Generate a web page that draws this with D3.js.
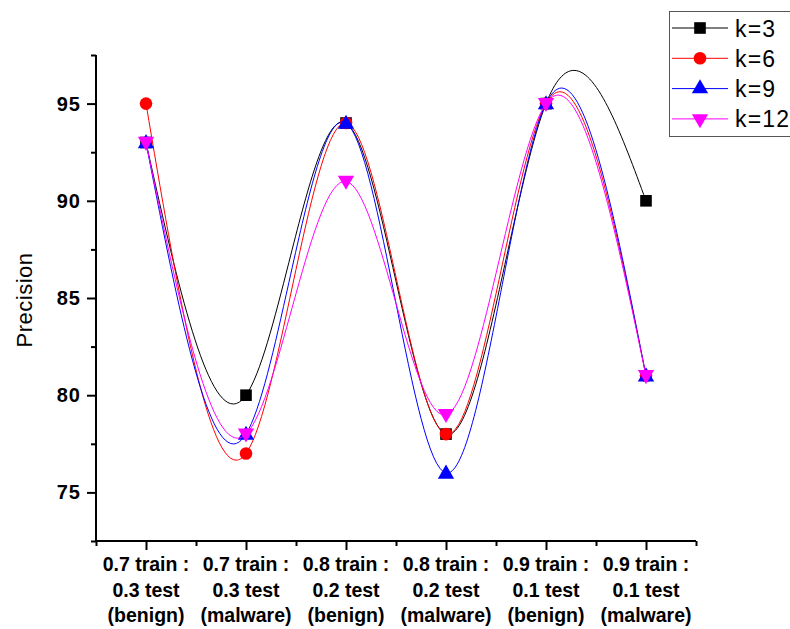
<!DOCTYPE html>
<html>
<head>
<meta charset="utf-8">
<script src="https://cdn.jsdelivr.net/npm/d3@7.9.0/dist/d3.min.js"></script>
<style>
  body { margin: 0; background: #fff; }
  svg { display: block; font-family: "Liberation Sans", Arial, sans-serif; }
</style>
</head>
<body>
<svg id="chart" width="790" height="629"></svg>
<script>
// categories (one per x position, split into three label lines)
const categories = [
  ['0.7 train :', '0.3 test', '(benign)'],
  ['0.7 train :', '0.3 test', '(malware)'],
  ['0.8 train :', '0.2 test', '(benign)'],
  ['0.8 train :', '0.2 test', '(malware)'],
  ['0.9 train :', '0.1 test', '(benign)'],
  ['0.9 train :', '0.1 test', '(malware)']
];

const seriesNames = ['k=3', 'k=6', 'k=9', 'k=12'];
const k3 = [93, 80, 94, 78, 95, 90];
const k6 = [95, 77, 94, 78, 95, 81];
const k9 = [93, 78, 94, 76, 95, 81];
const k12 = [93, 78, 91, 79, 95, 81];
const yTicks = [75, 80, 85, 90, 95];
const yMinorTicks = [72.5, 77.5, 82.5, 87.5, 92.5, 97.5];

const colors = ['#000000', '#ff0000', '#0000ff', '#ff00ff'];
const symbols = [d3.symbolSquare, d3.symbolCircle, d3.symbolTriangle, d3.symbolTriangle];

const series = [k3, k6, k9, k12].map((vals, i) => ({
  name: seriesNames[i],
  color: colors[i],
  symbol: symbols[i],
  flip: i === 3,
  values: vals.map((v, j) => ({ x: j + 1, y: v }))
}));

const svg = d3.select('#chart');

const x = d3.scaleLinear().domain([0.5, categories.length + 0.5]).range([96, 696]);
const y = d3.scaleLinear().domain([72.5, 97.5]).range([541, 55]);

// bottom axis
const xAxis = svg.append('g').attr('transform', 'translate(0,541)');
xAxis.call(d3.axisBottom(x).tickValues(d3.range(1, categories.length + 1)).tickSize(9).tickFormat(''));
xAxis.append('g').call(d3.axisBottom(x).tickValues(d3.range(0.5, categories.length + 1, 1)).tickSize(5).tickFormat(''));
xAxis.selectAll('.domain').attr('stroke-width', 2).attr('d', `M${x(0.5)},0H${x(categories.length + 0.5)}`);
xAxis.selectAll('line').attr('stroke-width', 2);

const xLabels = svg.append('g')
  .attr('font-weight', 'bold')
  .attr('font-size', 19.5)
  .attr('text-anchor', 'middle');
categories.forEach((lines, i) => {
  lines.forEach((t, j) => {
    xLabels.append('text')
      .attr('x', x(i + 1))
      .attr('y', 571 + j * 25.5)
      .text(t);
  });
});

// left axis
const yAxis = svg.append('g').attr('transform', 'translate(96,0)');
yAxis.call(d3.axisLeft(y).tickValues(yTicks).tickSize(9).tickFormat(''));
yAxis.append('g').call(d3.axisLeft(y).tickValues(yMinorTicks).tickSize(5).tickFormat(''));
yAxis.selectAll('.domain').attr('stroke-width', 2).attr('d', `M0,${y(72.5)}V${y(97.5)}`);
yAxis.selectAll('line').attr('stroke-width', 2);

svg.append('g')
  .attr('font-weight', 'bold')
  .attr('font-size', 20)
  .attr('letter-spacing', 1)
  .attr('text-anchor', 'end')
  .selectAll('text')
  .data(yTicks)
  .join('text')
  .attr('x', 81)
  .attr('y', d => y(d) + 7)
  .text(d => d);

svg.append('text')
  .attr('transform', `translate(32,${(y(72.5) + y(97.5)) / 2 + 2}) rotate(-90)`)
  .attr('text-anchor', 'middle')
  .attr('font-size', 22)
  .attr('letter-spacing', 0.5)
  .text('Precision');

// lines and markers
const line = d3.line()
  .x(d => x(d.x))
  .y(d => y(d.y))
  .curve(d3.curveNatural);

const markSize = s => s.symbol === d3.symbolCircle ? 125 : s.symbol === d3.symbolSquare ? 135 : 115;

const plot = svg.append('g');
series.forEach(s => {
  const g = plot.append('g');
  g.append('path')
    .attr('d', line(s.values))
    .attr('fill', 'none')
    .attr('stroke', s.color)
    .attr('stroke-width', 1);
  g.selectAll('path.mark')
    .data(s.values)
    .join('path')
    .attr('class', 'mark')
    .attr('d', d3.symbol(s.symbol, markSize(s)))
    .attr('transform', d => `translate(${x(d.x)},${y(d.y) + (s.symbol === d3.symbolTriangle ? (s.flip ? -1 : 1) : 0)})${s.flip ? ' rotate(180)' : ''}`)
    .attr('fill', s.color);
});

// legend
const legend = svg.append('g');
legend.append('rect')
  .attr('x', 669.5).attr('y', 11.5)
  .attr('width', 140).attr('height', 125)
  .attr('fill', '#fff')
  .attr('stroke', '#555')
  .attr('stroke-width', 1);
series.forEach((s, i) => {
  const ly = 28 + i * 30.3;
  legend.append('line')
    .attr('x1', 672).attr('x2', 728)
    .attr('y1', ly).attr('y2', ly)
    .attr('stroke', s.color).attr('stroke-width', 1);
  legend.append('path')
    .attr('d', d3.symbol(s.symbol, markSize(s)))
    .attr('transform', `translate(700,${ly})${s.flip ? ' rotate(180)' : ''}`)
    .attr('fill', s.color);
  legend.append('text')
    .attr('x', 735)
    .attr('y', ly + 8.5)
    .attr('font-size', 23)
    .attr('letter-spacing', 1.2)
    .text(s.name);
});
</script>
</body>
</html>
